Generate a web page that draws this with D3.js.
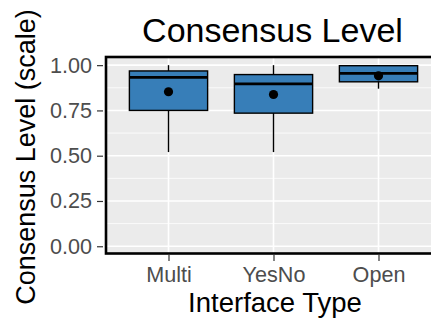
<!DOCTYPE html>
<html>
<head>
<meta charset="utf-8">
<script src="https://cdn.jsdelivr.net/npm/d3@7"></script>
<style>
  html, body { margin: 0; padding: 0; background: #fff; }
  svg { display: block; font-family: "Liberation Sans", Arial, Helvetica, sans-serif; }
</style>
</head>
<body>
<svg id="chart" width="431" height="320"></svg>
<script>
// ---- data ----
const categories   = ["Multi", "YesNo", "Open"];
const whiskerLow   = [0.52, 0.52, 0.87];
const q1           = [0.75, 0.735, 0.908];
const median       = [0.933, 0.897, 0.955];
const q3           = [0.968, 0.948, 0.997];
const whiskerHigh  = [1.00, 1.00, 1.00];
const means        = [0.853, 0.838, 0.941];
const yTicks       = [0, 0.25, 0.5, 0.75, 1.0];
const yMinorTicks  = [0.125, 0.375, 0.625, 0.875];
const titleText    = "Consensus Level";
const xTitle       = "Interface Type";
const yTitle       = "Consensus Level (scale)";

const rows = categories.map((c, i) => ({
  cat: c, lo: whiskerLow[i], q1: q1[i], med: median[i], q3: q3[i], hi: whiskerHigh[i], mean: means[i]
}));

const svg = d3.select("#chart");
const panel = { left: 106, right: 442, top: 57, bottom: 253.5 };

const y = d3.scaleLinear().domain([-0.04, 1.045]).range([panel.bottom, panel.top]);
const x = d3.scalePoint().domain(categories).range([105.5, 441.5]).padding(0.6);
const step = x.step();
const boxW = step * 0.745;

// panel background
svg.append("rect")
  .attr("x", panel.left).attr("y", panel.top)
  .attr("width", panel.right - panel.left).attr("height", panel.bottom - panel.top)
  .attr("fill", "#EBEBEB");

// grid lines
const grid = svg.append("g");
grid.selectAll(".minor").data(yMinorTicks).join("line")
  .attr("x1", panel.left).attr("x2", panel.right)
  .attr("y1", d => y(d)).attr("y2", d => y(d))
  .attr("stroke", "#fff").attr("stroke-width", 0.8);
grid.selectAll(".major").data(yTicks).join("line")
  .attr("x1", panel.left).attr("x2", panel.right)
  .attr("y1", d => y(d)).attr("y2", d => y(d))
  .attr("stroke", "#fff").attr("stroke-width", 1.6);
grid.selectAll(".vmajor").data(categories).join("line")
  .attr("x1", d => x(d)).attr("x2", d => x(d))
  .attr("y1", panel.top).attr("y2", panel.bottom)
  .attr("stroke", "#fff").attr("stroke-width", 1.6);

// boxplots
const g = svg.append("g");
g.selectAll(".whisk").data(rows).join("line")
  .attr("x1", d => x(d.cat)).attr("x2", d => x(d.cat))
  .attr("y1", d => y(d.lo)).attr("y2", d => y(d.hi))
  .attr("stroke", "#000").attr("stroke-width", 1.4);
g.selectAll(".box").data(rows).join("rect")
  .attr("x", d => x(d.cat) - boxW / 2).attr("width", boxW)
  .attr("y", d => y(d.q3)).attr("height", d => y(d.q1) - y(d.q3))
  .attr("fill", "#377EB8").attr("stroke", "#000").attr("stroke-width", 1.4);
g.selectAll(".med").data(rows).join("line")
  .attr("x1", d => x(d.cat) - boxW / 2).attr("x2", d => x(d.cat) + boxW / 2)
  .attr("y1", d => y(d.med)).attr("y2", d => y(d.med))
  .attr("stroke", "#000").attr("stroke-width", 2.8);
g.selectAll(".mean").data(rows).join("circle")
  .attr("cx", d => x(d.cat)).attr("cy", d => y(d.mean)).attr("r", 4.6)
  .attr("fill", "#000");

// panel border
svg.append("rect")
  .attr("x", panel.left).attr("y", panel.top)
  .attr("width", panel.right - panel.left).attr("height", panel.bottom - panel.top)
  .attr("fill", "none").attr("stroke", "#000").attr("stroke-width", 2.6);

// axes
const yAxis = svg.append("g").attr("transform", `translate(${panel.left - 3},0)`)
  .call(d3.axisLeft(y).tickValues(yTicks).tickFormat(d3.format(".2f")).tickSize(6).tickPadding(5));
const xAxis = svg.append("g").attr("transform", `translate(0,${panel.bottom + 1.5})`)
  .call(d3.axisBottom(x).tickSize(6).tickPadding(6));
[yAxis, xAxis].forEach(a => {
  a.select(".domain").remove();
  a.selectAll(".tick line").attr("stroke", "#333").attr("stroke-width", 1.2);
  a.selectAll(".tick text").attr("fill", "#4D4D4D").style("font-size", "21.6px")
    .style("font-family", "'Liberation Sans', Arial, sans-serif");
});

// titles
svg.append("text").attr("x", 272.5).attr("y", 42).attr("text-anchor", "middle")
  .style("font-size", "34px").attr("fill", "#000").text(titleText);
svg.append("text").attr("x", 275).attr("y", 312).attr("text-anchor", "middle")
  .style("font-size", "27.5px").attr("fill", "#000").text(xTitle);
svg.append("text").attr("transform", "translate(34.5,157) rotate(-90)").attr("text-anchor", "middle")
  .style("font-size", "27px").attr("fill", "#000").text(yTitle);
</script>
</body>
</html>
